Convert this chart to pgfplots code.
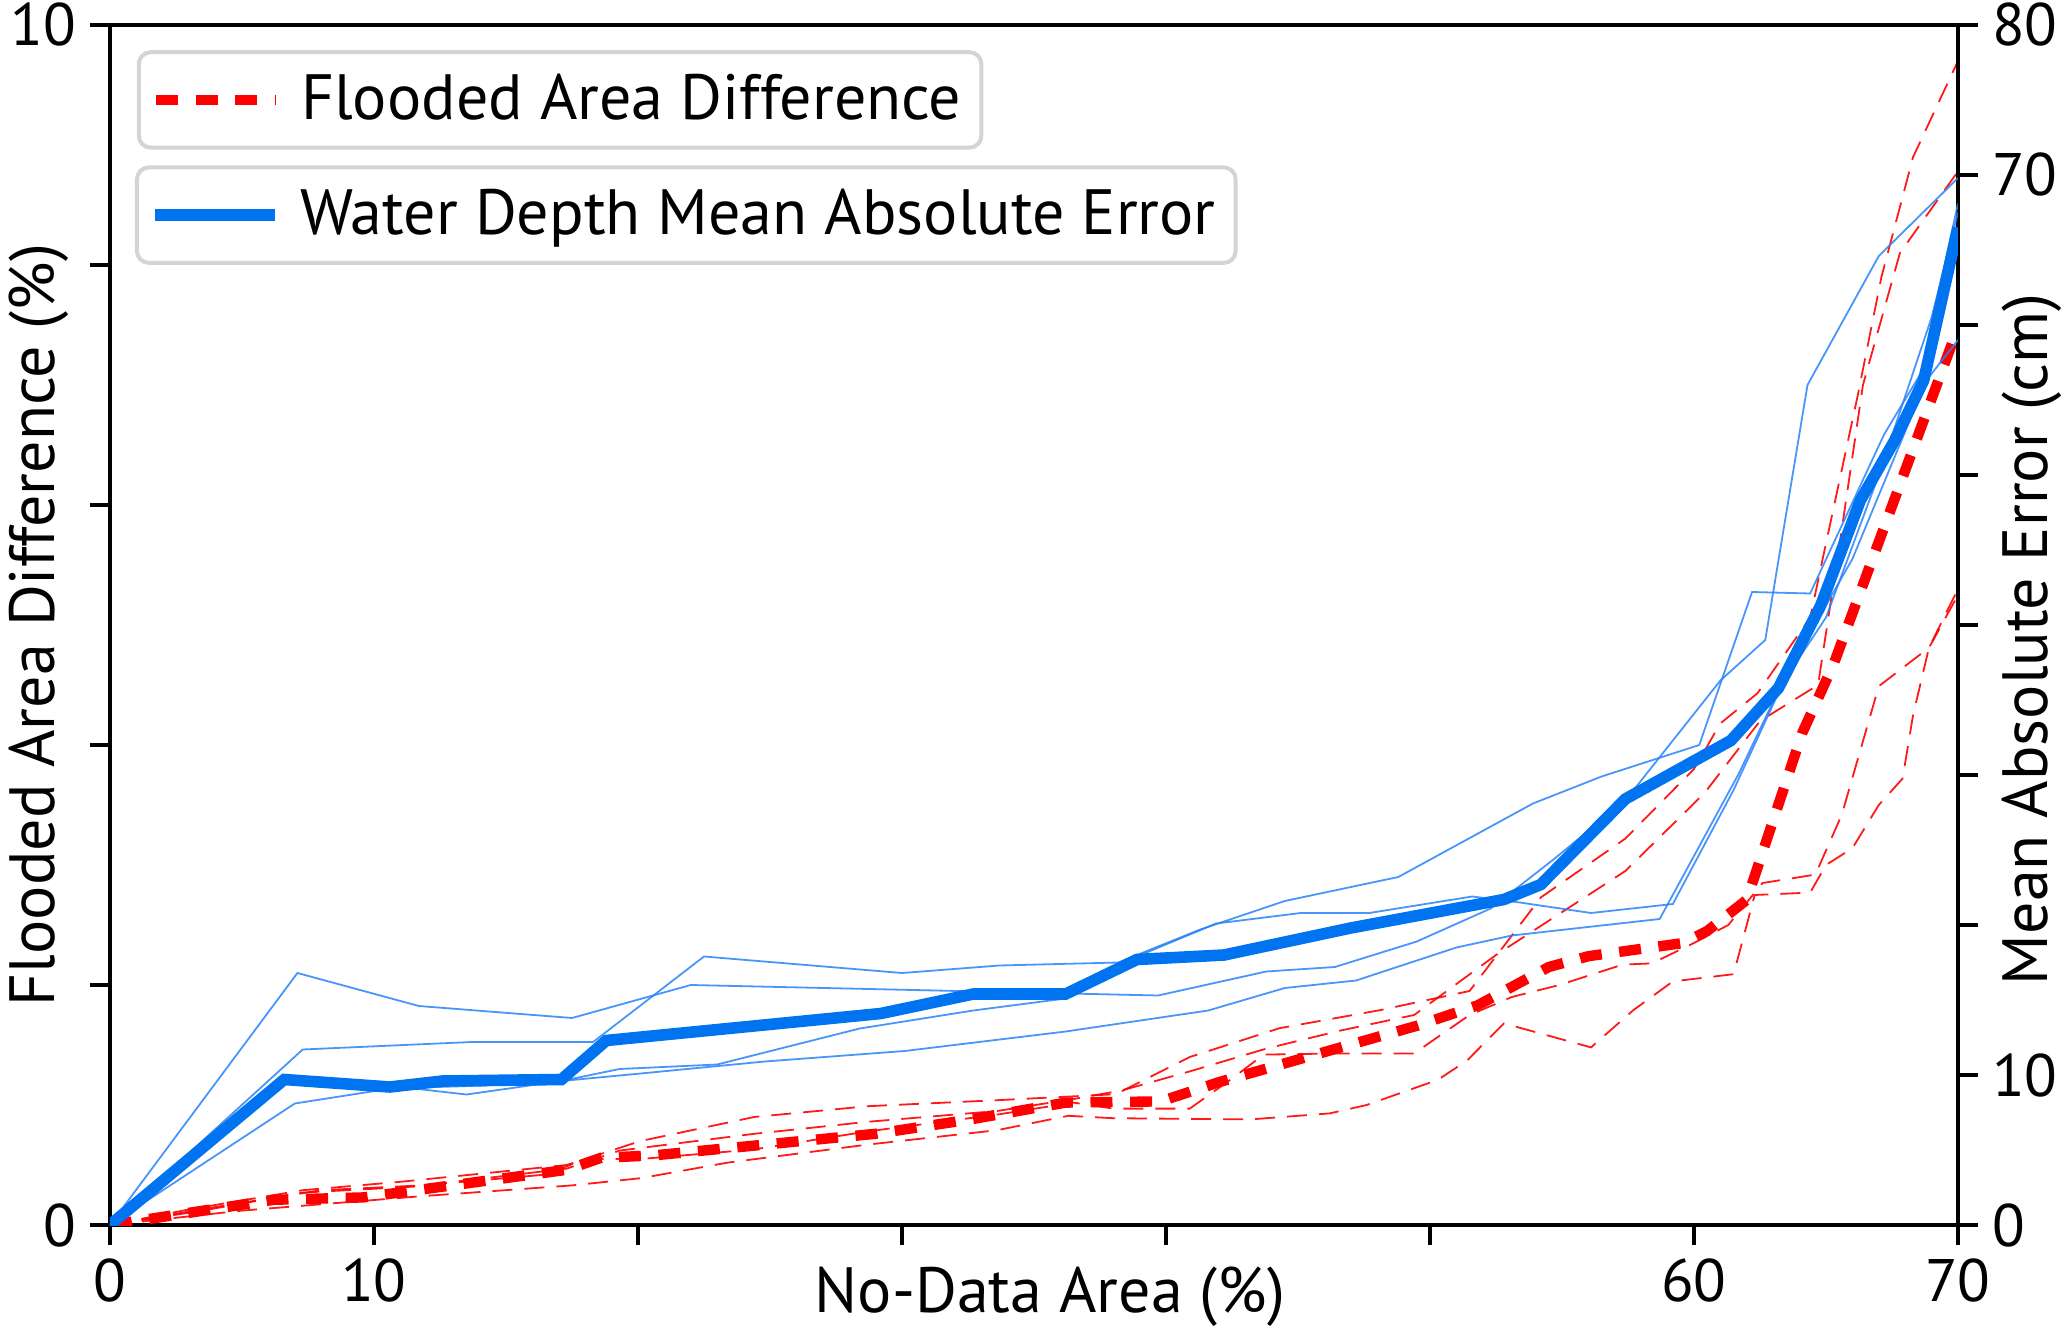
\documentclass[border=0pt]{standalone}
\usepackage{fontspec}
\setmainfont{PT Sans}
\usepackage{pgfplots}
\pgfplotsset{compat=1.18}
\definecolor{mblue}{RGB}{0,115,240}
\definecolor{tblue}{RGB}{40,130,250}
\definecolor{lgray}{RGB}{212,212,212}

\begin{document}
\begin{tikzpicture}
\pgfplotsset{
  base/.style={
    scale only axis, width=462pt, height=300pt,
    xmin=0, xmax=70,
    tick align=outside, major tick length=5pt,
    every tick/.style={line width=1pt, black},
    axis line style={line width=1pt},
    tick label style={font=\fontsize{15}{15}\selectfont},
    label style={font=\fontsize{16}{16}\selectfont},
    /pgf/number format/assume math mode=true,
    legend cell align=left,
    legend style={draw=lgray, line width=1pt, rounded corners=3pt,
      inner xsep=3pt, inner ysep=3.5pt, anchor=north west,
      font=\fontsize{16}{16}\selectfont},
    legend image code/.code={\draw[##1] (0pt,0pt) -- (30pt,0pt); \path (33pt,0pt);},
  },
  thinr/.style={red, line width=0.45pt, dash pattern=on 5pt off 3pt, opacity=0.9},
  thinb/.style={tblue, line width=0.45pt, opacity=0.85},
}
% left axis: flooded area difference
\begin{axis}[base,
  ymin=0, ymax=10,
  xtick={0,10,...,70}, xticklabels={0,10,,,,,60,70},
  ytick={0,2,...,10}, yticklabels={0,,,,,10},
  xtick pos=bottom, ytick pos=left,
  xlabel={No-Data Area (\%)},
  ylabel={Flooded Area Difference (\%)},
  xlabel style={at={(axis description cs:0.5087,-0.060)}, anchor=center},
  ylabel style={at={(axis description cs:-0.0385,0.5)}, anchor=center},
  legend style={at={(axis description cs:0.0145,0.9790)}},
]
% individual runs
\addplot[thinr, forget plot] coordinates {
(0,0) (3.0,0.13) (7.3,0.29) (11.0,0.36) (17.3,0.50) (20.1,0.70) (24.4,0.90)
(28.7,0.99) (33.6,1.04) (38.1,1.09) (40.9,1.40) (44.3,1.64) (48.1,1.79)
(51.5,1.95) (54.2,2.73) (57.4,3.22) (60.0,3.80) (61.0,4.18) (62.4,4.43)
(64.4,5.06) (65.0,5.68) (66.2,6.91) (67.1,7.90) (68.3,8.90) (70,9.70)};
\addplot[thinr, forget plot] coordinates {
(0,0) (3.5,0.12) (7.3,0.27) (11.5,0.32) (17.3,0.47) (19.3,0.62) (24.4,0.76)
(28.7,0.86) (33.6,0.95) (36.5,1.05) (38.3,1.12) (40.9,1.28) (43.8,1.47)
(46.6,1.62) (49.4,1.75) (52.5,2.25) (57.4,2.95) (60.4,3.60) (62.5,4.20)
(64.7,4.50) (65.6,5.80) (66.4,7.00) (67.8,8.10) (70,8.78)};
\addplot[thinr, forget plot] coordinates {
(0,0) (5.0,0.12) (11.8,0.24) (17.5,0.33) (20.1,0.39) (23.4,0.52) (28.7,0.67)
(33.6,0.79) (36.3,0.91) (38.0,0.89) (43.2,0.88) (46.2,0.93) (47.6,1.00)
(50.3,1.21) (51.4,1.37) (52.8,1.68) (56.1,1.48) (57.7,1.79) (59.2,2.03)
(61.5,2.09) (62.3,2.75) (64.4,2.77) (65.0,3.00) (66.0,3.14) (67.0,3.50)
(67.9,3.72) (68.3,4.25) (68.9,4.81) (70,5.30)};
\addplot[thinr, forget plot] coordinates {
(0,0) (4.0,0.15) (8.0,0.29) (11.8,0.33) (16.5,0.42) (18.0,0.55) (20.1,0.55)
(24.4,0.63) (28.7,0.78) (33.6,0.92) (36.5,1.02) (38.0,0.97) (40.9,0.97)
(42.5,1.22) (43.7,1.42) (46.6,1.43) (49.4,1.43) (51.5,1.75) (53.1,1.90)
(54.9,2.00) (57.3,2.17) (58.4,2.18) (60.0,2.35) (61.3,2.50) (62.6,2.85)
(64.6,2.92) (65.6,3.42) (67.0,4.49) (68.9,4.81) (70,5.25)};
% mean
\addplot[red, line width=2.6pt, dash pattern=on 5.5pt off 4.4pt] coordinates {
(0,0) (6.2,0.21) (9.6,0.23) (17.3,0.46) (18.6,0.56) (20.6,0.58) (29.0,0.76)
(32.6,0.88) (36.2,1.02) (39.8,1.03) (42.0,1.19) (45.5,1.41) (49.5,1.66)
(51.8,1.83) (54.5,2.15) (56.0,2.24) (59.6,2.35) (60.5,2.45) (62.0,2.71)
(64.1,4.10) (65.3,4.68) (70,7.48)};
\addlegendentry{Flooded Area Difference}
\end{axis}

% right axis: water depth mean absolute error
\begin{axis}[base,
  axis x line=none, axis y line*=right,
  ymin=0, ymax=80,
  ytick={0,10,...,80}, yticklabels={0,10,,,,,,70,80},
  ylabel={Mean Absolute Error (cm)},
  ylabel style={at={(axis description cs:1.040,0.488)}, anchor=center},
  legend style={at={(axis description cs:0.0135,0.8830)}},
]
\addplot[thinb, forget plot] coordinates {
(0,0) (7.1,16.8) (11.7,14.6) (17.5,13.8) (22.0,16.0) (39.7,15.3) (43.8,16.9)
(46.4,17.2) (49.5,18.9) (52.3,21.1) (54.7,24.4) (57.4,28.3) (61.0,36.3)
(62.7,39.0) (64.3,56.0) (67.0,64.6) (70,69.8)};
\addplot[thinb, forget plot] coordinates {
(0,0) (7.3,11.7) (13.7,12.2) (18.3,12.2) (22.5,17.9) (30.0,16.8) (33.7,17.3)
(38.2,17.5) (41.3,19.7) (44.5,21.6) (48.8,23.2) (53.9,28.1) (56.5,29.9)
(60.2,32.0) (62.2,42.2) (64.4,42.1) (67.2,52.7) (68.6,56.8) (70,68.1)};
\addplot[thinb, forget plot] coordinates {
(0,0) (7.0,8.1) (11.0,9.2) (13.5,8.7) (17.1,9.6) (19.3,10.4) (23.0,10.7)
(28.4,13.1) (32.7,14.3) (36.2,15.1) (38.9,17.9) (41.9,20.1) (45.1,20.8)
(47.7,20.8) (51.6,21.9) (53.4,21.5) (56.1,20.8) (59.2,21.4) (61.5,29.0)
(63.6,37.0) (66.0,44.4) (68.8,56.3) (70,59.0)};
\addplot[thinb, forget plot] coordinates {
(0,0) (6.6,9.6) (10.6,9.1) (14.2,9.3) (17.1,9.6) (20.1,10.1) (24.8,10.9)
(30.1,11.6) (36.2,12.9) (41.6,14.3) (44.5,15.8) (47.2,16.3) (51.0,18.5)
(53.1,19.3) (58.7,20.4) (61.7,30.1) (63.3,36.0) (65.0,40.5) (67.0,50.0)
(69.0,60.5) (70,67.5)};
% mean
\addplot[mblue, line width=2.9pt] coordinates {
(0,0) (6.6,9.7) (10.6,9.2) (12.6,9.6) (17.1,9.7) (18.8,12.3) (29.2,14.1)
(32.7,15.4) (36.2,15.4) (38.9,17.7) (42.2,18.0) (47.0,19.8) (52.8,21.7)
(54.2,22.7) (57.4,28.4) (61.4,32.3) (63.2,35.8) (64.8,41.3) (66.3,48.3)
(67.6,52.3) (68.7,56.3) (70,66.5)};
\addlegendentry{Water Depth Mean Absolute Error}
\end{axis}
\pgfresetboundingbox
\path (-27.5pt,-26pt) rectangle (489pt,306.25pt);
\end{tikzpicture}
\end{document}
